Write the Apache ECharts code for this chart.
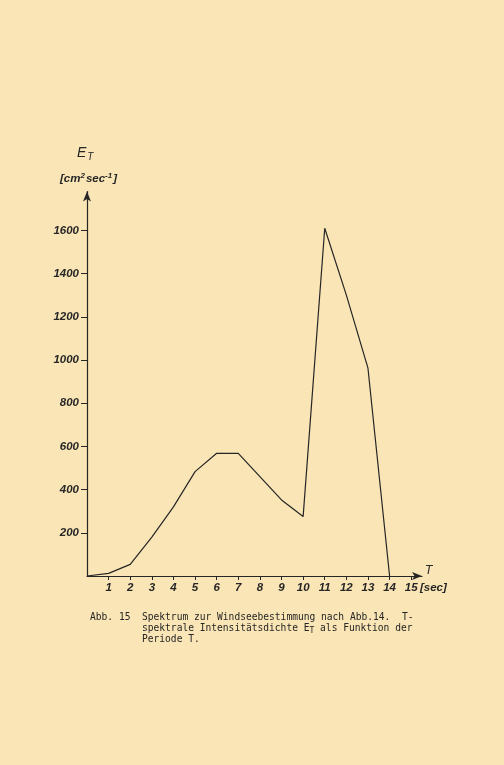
<!DOCTYPE html>
<html><head><meta charset="utf-8">
<script src="https://cdn.jsdelivr.net/npm/echarts@6/dist/echarts.min.js"></script>
<style>html,body{margin:0;padding:0;background:#f9e5b5}#c{width:504px;height:765px}</style>
</head><body><div id="c"></div>
<script>
const periods = [0, 1, 2, 3, 4, 5, 6, 7, 8, 9, 10, 11, 12, 13, 14];
const intensity = [0, 12, 54, 180, 320, 483, 568, 568, 460, 352, 275, 1610, 1300, 962, 0];
const xTickValues = [1, 2, 3, 4, 5, 6, 7, 8, 9, 10, 11, 12, 13, 14, 15];
const yTickValues = [200, 400, 600, 800, 1000, 1200, 1400, 1600];
const captionLines = [
  ['Abb. 15  Spektrum zur Windseebestimmung nach Abb.14.  T-'],
  ['         spektrale Intensitätsdichte E', 'T', ' als Funktion der'],
  ['         Periode T.']
];

const ink = '#262626';
const axisFont = { fontFamily: 'Liberation Sans', fontStyle: 'italic', fontWeight: 'bold', fontSize: 11.5, color: ink };
const mono = 'DejaVu Sans Mono';
const capSize = 9.6;

const chart = echarts.init(document.getElementById('c'), null, { renderer: 'canvas' });
chart.setOption({
  backgroundColor: '#f9e5b5',
  animation: false,
  grid: { left: 87, right: 82, top: 191.5, bottom: 189, containLabel: false },
  xAxis: {
    type: 'value', min: 0, max: 15.5,
    axisLine: { show: true, onZero: false, symbol: ['none', 'arrow'], symbolSize: [6, 10], lineStyle: { color: ink, width: 1.2 } },
    axisTick: { show: true, length: 4, customValues: xTickValues, lineStyle: { color: ink, width: 1 } },
    axisLabel: Object.assign({ margin: 6, customValues: xTickValues, formatter: v => String(v) }, axisFont),
    splitLine: { show: false }
  },
  yAxis: {
    type: 'value', min: 0, max: 1780,
    axisLine: { show: true, onZero: false, symbol: ['none', 'arrow'], symbolSize: [6, 10], lineStyle: { color: ink, width: 1.2 } },
    axisTick: { show: true, length: 6, customValues: yTickValues, lineStyle: { color: ink, width: 1 } },
    axisLabel: Object.assign({ margin: 8, customValues: yTickValues, formatter: v => String(v) }, axisFont),
    splitLine: { show: false }
  },
  series: [{
    type: 'line',
    data: periods.map((t, i) => [t, intensity[i]]),
    symbol: 'none',
    lineStyle: { color: ink, width: 1.2 }
  }],
  graphic: [
    { type: 'text', left: 77, top: 146, style: {
      text: '{e|E}{s|T}', rich: {
        e: { fontFamily: 'Liberation Sans', fontStyle: 'italic', fontSize: 14, fill: ink },
        s: { fontFamily: 'Liberation Sans', fontStyle: 'italic', fontSize: 10, fill: ink, padding: [8, 0, 0, 1] }
      } } },
    { type: 'text', left: 60, top: 172, style: {
      text: '{u|[cm}{p|2}{u|sec}{p|-1}{u|]}', rich: {
        u: { fontFamily: 'Liberation Sans', fontStyle: 'italic', fontWeight: 'bold', fontSize: 11.5, fill: ink },
        p: { fontFamily: 'Liberation Sans', fontStyle: 'italic', fontWeight: 'bold', fontSize: 8, fill: ink, padding: [0, 1, 6, 0] }
      } } },
    { type: 'text', left: 425, top: 565, style: { text: 'T', font: 'italic 12px "Liberation Sans"', fill: ink } },
    { type: 'text', left: 420, top: 582, style: { text: '[sec]', font: 'italic bold 11.5px "Liberation Sans"', fill: ink } },
    { type: 'text', left: 90, top: 612, style: { text: captionLines[0][0], font: capSize + 'px "' + mono + '"', fill: ink } },
    { type: 'text', left: 90, top: 623, style: {
      text: '{n|' + captionLines[1][0] + '}{s|' + captionLines[1][1] + '}{n|' + captionLines[1][2] + '}',
      rich: {
        n: { fontFamily: mono, fontSize: capSize, fill: ink },
        s: { fontFamily: mono, fontSize: 8, fill: ink, padding: [6, 0, 0, 0] }
      } } },
    { type: 'text', left: 90, top: 634, style: { text: captionLines[2][0], font: capSize + 'px "' + mono + '"', fill: ink } }
  ]
});
</script></body></html>
